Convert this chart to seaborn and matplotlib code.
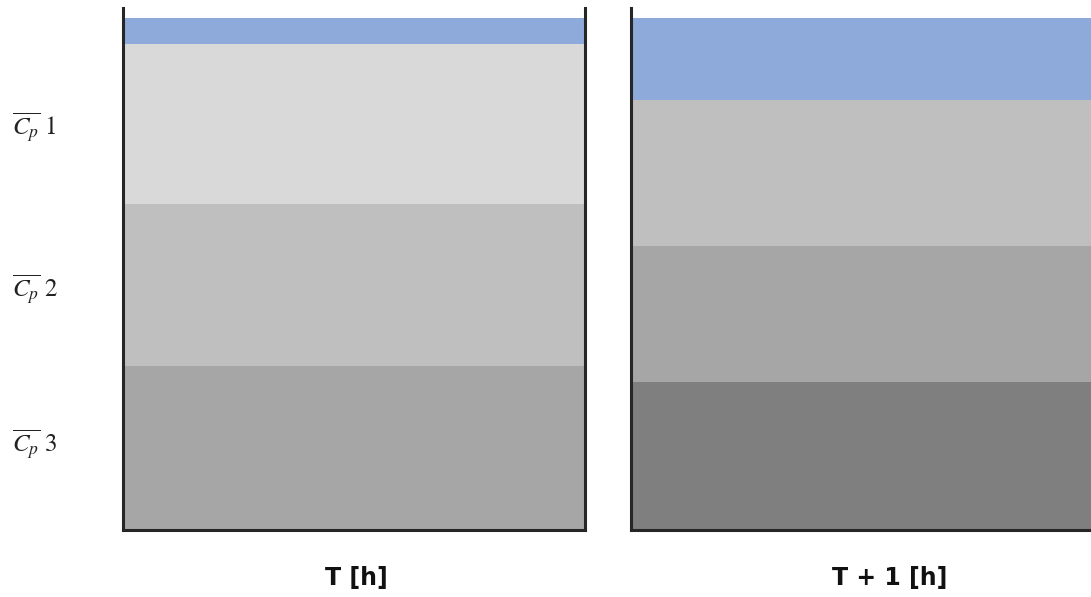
import matplotlib
matplotlib.use('Agg')
import matplotlib.pyplot as plt
import seaborn as sns
import pandas as pd

sns.set_theme(style='white')
plt.rcParams['mathtext.fontset'] = 'stix'

# layer thicknesses from bottom to top (arbitrary units, same scale in both panels)
layers = ['Cp 3', 'Cp 2', 'Cp 1', 'top']
left_heights = [164, 162, 160, 26]
right_heights = [148, 136, 146, 82]
left_colors = ['#a6a6a6', '#bfbfbf', '#d9d9d9', '#8eaadb']
right_colors = ['#7f7f7f', '#a6a6a6', '#bfbfbf', '#8eaadb']
row_labels = [r'$\overline{C_p}\ \mathrm{1}$', r'$\overline{C_p}\ \mathrm{2}$',
              r'$\overline{C_p}\ \mathrm{3}$']
x_titles = ['T [h]', 'T + 1 [h]']
y_max = 522

fig = plt.figure(figsize=(10.91, 5.97), dpi=100)
ax_l = fig.add_axes([123 / 1091, 67 / 597, 462 / 1091, 522 / 597])
ax_r = fig.add_axes([631 / 1091, 67 / 597, 462 / 1091, 522 / 597])


def draw_stack(ax, heights, colors):
    # draw cumulative bars tallest first so lower layers sit on top
    tops = pd.Series(heights).cumsum().tolist()
    for top, c in reversed(list(zip(tops, colors))):
        df = pd.DataFrame({'t': ['x'], 'h': [top]})
        sns.barplot(data=df, x='t', y='h', color=c, width=1.0,
                    saturation=1, edgecolor='none', linewidth=0, ax=ax)
    ax.set_xlim(-0.5, 0.5)
    ax.set_ylim(0, y_max)
    ax.set_xticks([])
    ax.set_yticks([])
    ax.set_xlabel('')
    ax.set_ylabel('')
    for s in ax.spines.values():
        s.set_color('#262626')
        s.set_linewidth(2.2)
    ax.spines['top'].set_visible(False)


draw_stack(ax_l, left_heights, left_colors)
draw_stack(ax_r, right_heights, right_colors)

for lbl, y in zip(row_labels, [128, 290, 445]):
    fig.text(12 / 1091, 1 - y / 597, lbl, fontsize=18, color='#222222',
             ha='left', va='center')

fig.text(356 / 1091, 1 - 578 / 597, x_titles[0], fontsize=17,
         fontweight='bold', ha='center', va='center', color='#111111')
fig.text(890 / 1091, 1 - 578 / 597, x_titles[1], fontsize=17,
         fontweight='bold', ha='center', va='center', color='#111111')

fig.savefig('out.png', dpi=100)
